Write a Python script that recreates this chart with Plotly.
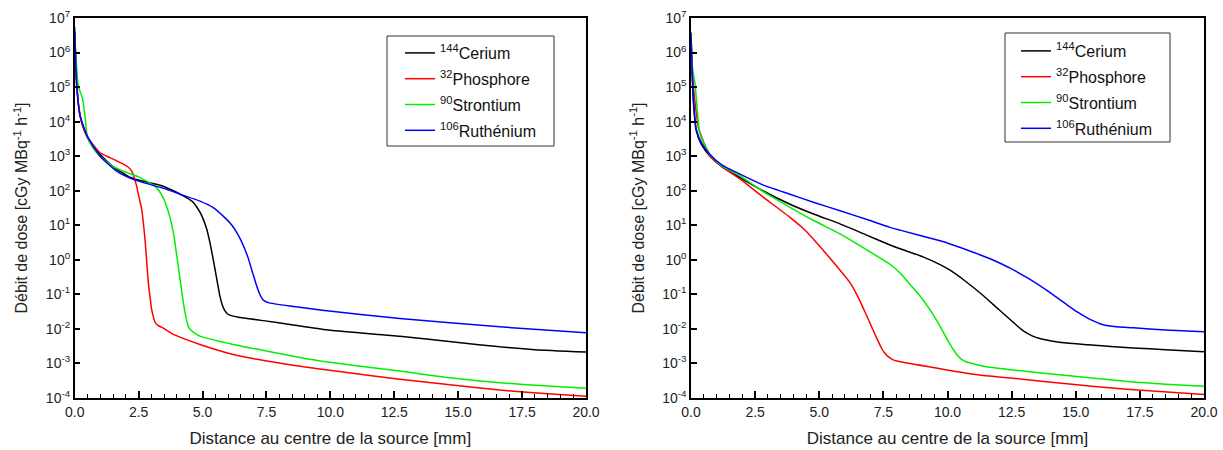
import plotly.graph_objects as go
from plotly.subplots import make_subplots

# ---------- data (distance in mm, dose rate as log10 exponent) ----------
# Left panel
ce_l_x = [0, 0.1, 0.2, 0.4, 0.6, 1.0, 1.5, 2.16, 2.8, 3.34, 3.8, 4.25, 4.5, 4.64, 4.8, 4.92, 5.03, 5.16, 5.29, 5.39, 5.49, 5.58, 5.68, 5.78, 5.88, 5.97, 6.07, 6.4, 7.38, 8.42, 10.0, 12.72, 15.0, 16.63, 18.0, 20.0]
ce_l_e = [6.6, 4.9, 4.2, 3.7, 3.4, 3.05, 2.7, 2.39, 2.25, 2.16, 2.02, 1.85, 1.74, 1.66, 1.5, 1.35, 1.17, 0.9, 0.5, 0.12, -0.28, -0.65, -1.05, -1.32, -1.48, -1.56, -1.6, -1.66, -1.76, -1.87, -2.04, -2.21, -2.39, -2.52, -2.6, -2.67]

p_l_x = [0, 0.05, 0.15, 0.3, 0.5, 0.99, 1.38, 1.9, 2.1, 2.23, 2.32, 2.42, 2.52, 2.62, 2.75, 2.88, 2.95, 3.0, 3.07, 3.14, 3.25, 3.4, 3.86, 4.9, 6.2, 7.51, 8.81, 10.5, 12.72, 14.5, 16.63, 18.5, 20.0]
p_l_e = [6.1, 5.3, 4.5, 3.9, 3.55, 3.1, 2.96, 2.77, 2.68, 2.57, 2.4, 2.14, 1.8, 1.46, 0.59, -0.66, -1.1, -1.4, -1.63, -1.8, -1.9, -1.95, -2.16, -2.45, -2.74, -2.93, -3.08, -3.25, -3.46, -3.6, -3.77, -3.88, -3.95]

sr_l_x = [0, 0.14, 0.22, 0.31, 0.4, 0.49, 0.7, 0.99, 1.5, 2.03, 2.5, 2.81, 3.0, 3.2, 3.3, 3.4, 3.5, 3.59, 3.7, 3.86, 4.05, 4.25, 4.35, 4.44, 4.52, 4.6, 4.9, 6.2, 7.5, 8.81, 9.6, 12.72, 14.5, 16.63, 18.5, 20.0]
sr_l_e = [6.4, 5.04, 4.85, 4.65, 4.17, 3.59, 3.25, 3.0, 2.7, 2.53, 2.4, 2.28, 2.2, 2.09, 2.0, 1.88, 1.74, 1.56, 1.3, 0.79, -0.18, -1.24, -1.65, -1.92, -2.02, -2.07, -2.21, -2.45, -2.64, -2.83, -2.93, -3.22, -3.4, -3.56, -3.65, -3.72]

ru_l_x = [0, 0.08, 0.21, 0.49, 0.99, 1.64, 2.29, 3.0, 3.6, 4.12, 4.9, 5.42, 5.94, 6.15, 6.34, 6.5, 6.66, 6.8, 6.92, 7.02, 7.12, 7.22, 7.31, 7.42, 7.57, 8.42, 9.6, 12.72, 16.63, 20.0]
ru_l_e = [6.73, 5.04, 4.17, 3.59, 3.0, 2.57, 2.33, 2.17, 2.04, 1.9, 1.7, 1.51, 1.17, 1.0, 0.79, 0.57, 0.30, 0.02, -0.28, -0.52, -0.76, -0.96, -1.10, -1.19, -1.24, -1.34, -1.45, -1.70, -1.94, -2.11]

# Right panel
ce_r_x = [0, 0.05, 0.1, 0.2, 0.4, 0.74, 1.2, 1.91, 2.8, 3.86, 4.8, 5.81, 6.8, 7.76, 8.15, 9.0, 9.71, 10.1, 10.7, 11.4, 12.0, 12.7, 13.0, 13.3, 13.6, 14.0, 14.65, 15.5, 17.24, 18.5, 20.0]
ce_r_e = [6.58, 5.3, 4.5, 3.75, 3.35, 3.0, 2.7, 2.38, 2.0, 1.61, 1.32, 1.04, 0.73, 0.43, 0.32, 0.1, -0.14, -0.3, -0.62, -1.04, -1.44, -1.9, -2.08, -2.2, -2.28, -2.34, -2.41, -2.46, -2.55, -2.6, -2.66]

p_r_x = [0, 0.05, 0.15, 0.3, 0.74, 1.2, 1.91, 2.8, 3.86, 4.5, 5.16, 5.7, 6.2, 6.5, 6.85, 7.2, 7.43, 7.55, 7.7, 7.85, 8.02, 9.71, 11.4, 12.44, 14.65, 17.0, 20.0]
p_r_e = [6.4, 5.4, 4.6, 3.8, 3.0, 2.7, 2.34, 1.82, 1.23, 0.82, 0.27, -0.2, -0.66, -1.06, -1.62, -2.2, -2.56, -2.7, -2.81, -2.88, -2.93, -3.15, -3.35, -3.42, -3.59, -3.75, -3.9]

sr_r_x = [0, 0.05, 0.16, 0.35, 0.74, 1.2, 1.91, 2.8, 3.86, 4.8, 5.81, 6.5, 7.11, 7.8, 8.15, 8.41, 8.9, 9.32, 9.6, 9.84, 10.1, 10.36, 10.55, 10.75, 11.0, 11.4, 12.44, 14.65, 17.24, 18.5, 20.0]
sr_r_e = [6.5, 5.6, 5.08, 3.64, 3.05, 2.72, 2.43, 1.98, 1.52, 1.13, 0.75, 0.45, 0.17, -0.15, -0.38, -0.6, -1.02, -1.45, -1.78, -2.1, -2.45, -2.74, -2.88, -2.96, -3.01, -3.08, -3.18, -3.35, -3.54, -3.6, -3.66]

ru_r_x = [0, 0.05, 0.1, 0.2, 0.4, 0.74, 1.2, 1.91, 2.8, 3.86, 4.8, 5.81, 6.8, 7.76, 8.15, 9.71, 10.1, 11.0, 11.66, 12.05, 12.44, 13.2, 14.0, 14.6, 15.04, 15.5, 15.75, 15.95, 16.2, 16.5, 17.24, 18.5, 20.0]
ru_r_e = [6.5, 5.4, 4.6, 3.8, 3.4, 3.05, 2.75, 2.48, 2.17, 1.90, 1.66, 1.42, 1.18, 0.94, 0.86, 0.55, 0.46, 0.22, 0.03, -0.10, -0.24, -0.56, -0.95, -1.27, -1.5, -1.7, -1.79, -1.85, -1.9, -1.93, -1.97, -2.03, -2.08]

names = ["<sup>144</sup>Cerium", "<sup>32</sup>Phosphore", "<sup>90</sup>Strontium", "<sup>106</sup>Ruthénium"]
colors = ["#000000", "#ff0000", "#00ee00", "#0000ff"]

left = [(ce_l_x, ce_l_e), (p_l_x, p_l_e), (sr_l_x, sr_l_e), (ru_l_x, ru_l_e)]
right = [(ce_r_x, ce_r_e), (p_r_x, p_r_e), (sr_r_x, sr_r_e), (ru_r_x, ru_r_e)]

ytickvals = [10.0 ** k for k in range(-4, 8)]
yticktext = ["10<sup>%d</sup>" % k for k in range(-4, 8)]
xtickvals = [0, 2.5, 5, 7.5, 10, 12.5, 15, 17.5, 20]
xticktext = ["%.1f" % v for v in xtickvals]

FONT = "Liberation Sans, Arial, sans-serif"
W, H = 1223, 450
TOP, BOT = 18, 398


def py(p):
    return 1 - (p - TOP) / (BOT - TOP)


fig = make_subplots(rows=1, cols=2)

for i, (x, e) in enumerate(left):
    fig.add_trace(go.Scatter(x=x, y=[10.0 ** v for v in e], mode="lines", name=names[i],
                             line=dict(color=colors[i], width=1.5, shape="spline", smoothing=0.5),
                             legend="legend", legendgroup="l%d" % i), row=1, col=1)
for i, (x, e) in enumerate(right):
    fig.add_trace(go.Scatter(x=x, y=[10.0 ** v for v in e], mode="lines", name=names[i],
                             line=dict(color=colors[i], width=1.5, shape="spline", smoothing=0.5),
                             legend="legend2", legendgroup="r%d" % i), row=1, col=2)

common_x = dict(range=[0, 20], tickvals=xtickvals, ticktext=xticktext, ticks="inside", ticklen=7,
                tickwidth=1.5, tickcolor="black", showline=True, linecolor="black", linewidth=1.5,
                mirror=True, showgrid=False, zeroline=False, automargin=False,
                minor=dict(dtick=0.5, ticks="inside", ticklen=4, tickwidth=1, tickcolor="black"),
                tickfont=dict(size=14, color="#222", family=FONT),
                title=dict(text="Distance au centre de la source [mm]", font=dict(size=17, color="#222", family=FONT), standoff=14))
common_y = dict(type="log", range=[-4, 7], tickvals=ytickvals, ticktext=yticktext, ticks="inside", ticklen=6,
                tickwidth=1.5, tickcolor="black", showline=True, linecolor="black", linewidth=1.5,
                mirror=True, showgrid=False, zeroline=False, automargin=False,
                tickfont=dict(size=14, color="#222", family=FONT),
                title=dict(text="Débit de dose [cGy MBq<sup>-1</sup> h<sup>-1</sup>]", font=dict(size=16, color="#222", family=FONT), standoff=14))

fig.update_xaxes(**common_x)
fig.update_yaxes(**common_y)

legend_common = dict(xanchor="left", yanchor="top", xref="paper", yref="paper", borderwidth=0,
                     bgcolor="rgba(0,0,0,0)", tracegroupgap=2,
                     font=dict(size=16, family=FONT, color="#111"))

fig.update_layout(
    xaxis=dict(domain=[74.7 / W, 586 / W]),
    xaxis2=dict(domain=[691 / W, 1204 / W]),
    width=W, height=H,
    margin=dict(l=0, r=0, t=TOP, b=H - BOT, autoexpand=False),
    paper_bgcolor="white", plot_bgcolor="white",
    font=dict(family=FONT, color="#222"),
    legend=dict(x=400 / W, y=py(36), **legend_common),
    legend2=dict(x=1016 / W, y=py(34), **legend_common),
    shapes=[
        dict(type="rect", xref="paper", yref="paper", x0=387 / W, x1=554 / W, y0=py(146), y1=py(36),
             line=dict(color="#333", width=1), layer="above"),
        dict(type="rect", xref="paper", yref="paper", x0=1005 / W, x1=1170 / W, y0=py(142), y1=py(33),
             line=dict(color="#333", width=1), layer="above"),
    ],
)

fig.write_html("out.html", config={"displayModeBar": False},
               post_script="document.body.style.margin='0px';document.body.style.overflow='hidden';")
